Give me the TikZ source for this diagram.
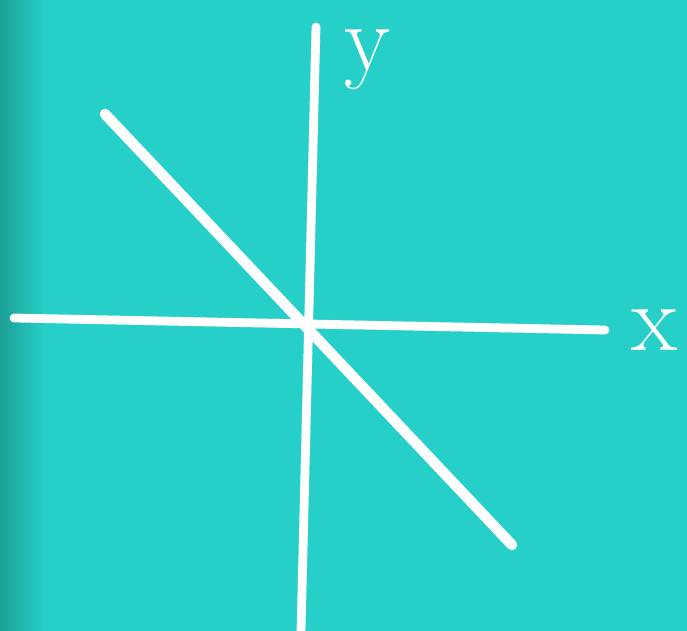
\documentclass[tikz,border=0pt]{standalone}
\usepackage{xcolor}
\usetikzlibrary{positioning}
\definecolor{board}{RGB}{38,208,200}
\definecolor{boardedge}{RGB}{28,160,150}

\begin{document}
\begin{tikzpicture}[
  x=0.02cm, y=-0.02cm,
  axis/.style={draw=white, line width=5pt, line cap=round},
  graph/.style={draw=white, line width=6pt, line cap=round},
  label/.style={text=white, font=\fontsize{54}{60}\selectfont, inner sep=0pt}
]
  \fill[board] (0,0) rectangle (687,631);
  \shade[left color=boardedge, right color=board] (0,0) rectangle (45,631);
  \useasboundingbox (0,0) rectangle (687,631);

  \coordinate (xl) at (14,318);
  \coordinate (xr) at (605,330);
  \coordinate (yt) at (316,27);
  \coordinate (yb) at (301,631);
  \coordinate (ls) at (105,114);
  \coordinate (le) at (512,545);

  \node[label] (xlab) at (655,330) {x};
  \node[label] (ylab) at (368,60) {y};

  \draw[axis] (xl) -- (xr);
  \draw[axis] (yt) -- (yb);
  \draw[graph] (ls) -- (le);
\end{tikzpicture}
\end{document}
